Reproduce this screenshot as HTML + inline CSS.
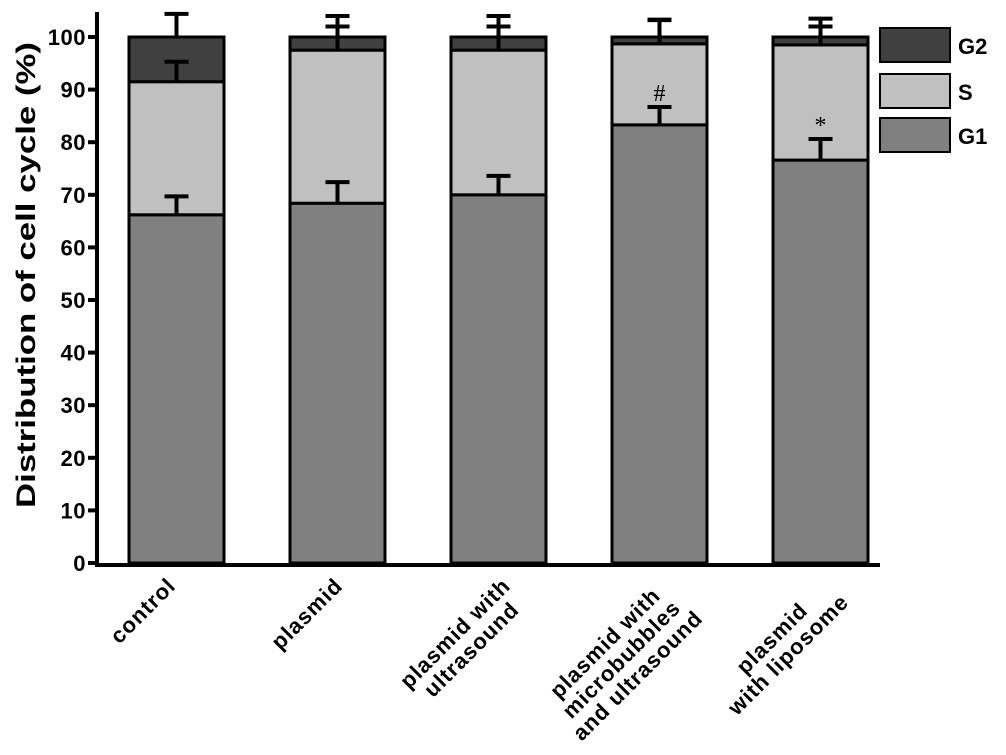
<!DOCTYPE html>
<html><head><meta charset="utf-8"><style>
body{margin:0;background:#fff}
svg{display:block;font-family:"Liberation Sans",Arial,sans-serif;font-weight:bold}
</style></head><body>
<svg id="c" width="1006" height="755"></svg>
<script>
const categories=[["control"],["plasmid"],["plasmid with","ultrasound"],["plasmid with","microbubbles","and ultrasound"],["plasmid","with liposome"]];
const g1=[66.2,68.4,70,83.3,76.6];
const s=[25.3,29.1,27.5,15.4,21.9];
const g2=[8.5,2.5,2.5,1.3,1.5];
const g1Err=[3.5,4,3.6,3.4,4];
const sErr=[3.8,4.5,4.5,4.5,3.5];
const g2Err=[4.4,4,4,3.3,3.5];
const marks=["","","","#","*"];
const yTicks=[0,10,20,30,40,50,60,70,80,90,100];
const labelRightOffset=[4,10,33,48,33];
const NS="http://www.w3.org/2000/svg";
const svg=document.getElementById('c');
const y=v=>563-v*5.26;
const xc=i=>176.5+i*161;
const bw=95;
function el(t,a,p){const e=document.createElementNS(NS,t);for(const k in a)e.setAttribute(k,a[k]);(p||svg).appendChild(e);return e;}
const ax=el('path',{d:`M97,12V565H880`,stroke:'#000','stroke-width':4,fill:'none'});


yTicks.forEach(t=>{
 const tk=el('line',{x1:88,x2:97,y1:y(t),y2:y(t),stroke:'#000','stroke-width':4});
 
 
 const tl=el('text',{x:86,y:y(t)+8,'text-anchor':'end','font-size':22,'letter-spacing':'0.5'});
 tl.textContent=t;
 
 
});
const yt=el('text',{transform:'translate(35,275) rotate(-90)','text-anchor':'middle','font-size':27,textLength:466,lengthAdjust:'spacingAndGlyphs'});
yt.textContent='Distribution of cell cycle (%)';


function err(cx,v,e){
 const l=el('path',{d:`M${cx},${y(v)}V${y(v+e)}M${cx-12},${y(v+e)}H${cx+12}`,stroke:'#000','stroke-width':4,fill:'none'});
 
 
}
categories.forEach((c,i)=>{
 const cx=xc(i),x0=cx-bw/2;
 const segs=[[0,g1[i],'#808080','g1'],[g1[i],g1[i]+s[i],'#c0c0c0','s'],[g1[i]+s[i],g1[i]+s[i]+g2[i],'#404040','g2']];
 segs.forEach(([a,b,col,n])=>{
  const r=el('rect',{x:x0,y:y(b),width:bw,height:y(a)-y(b),fill:col,stroke:'#000','stroke-width':3});
  
  
 });
 err(cx,g1[i],g1Err[i]);
 err(cx,g1[i]+s[i],sErr[i]);
 err(cx,g1[i]+s[i]+g2[i],g2Err[i]);
 if(marks[i]){
  const m=el('text',{x:cx,y:y(g1[i]+g1Err[i])-6,'text-anchor':'middle','font-size':24,'font-weight':'normal','font-family':'Liberation Serif,serif'});
  m.textContent=marks[i];
  
  
 }
 const outer=el('g',{});
 
 
 const g=el('g',{transform:'rotate(-45)'},outer);
 c.forEach((line,j)=>{
  const t=el('text',{x:0,y:j*23,'text-anchor':'middle','font-size':22,'letter-spacing':'1'},g);
  t.textContent=line;
 });
 const bb=outer.getBoundingClientRect();
 const tx=cx+labelRightOffset[i]-bb.right, ty=573-bb.top;
 outer.setAttribute('transform',`translate(${tx},${ty})`);
});
const leg=[['G2','#404040',28],['S','#c0c0c0',74],['G1','#808080',118]];
leg.forEach(([n,col,yy])=>{
 const r=el('rect',{x:880,y:yy,width:70,height:34,fill:col,stroke:'#000','stroke-width':2});
 
 
 const t=el('text',{x:958,y:yy+26,'font-size':22});
 t.textContent=n;
 
 
});
</script>
</body></html>
